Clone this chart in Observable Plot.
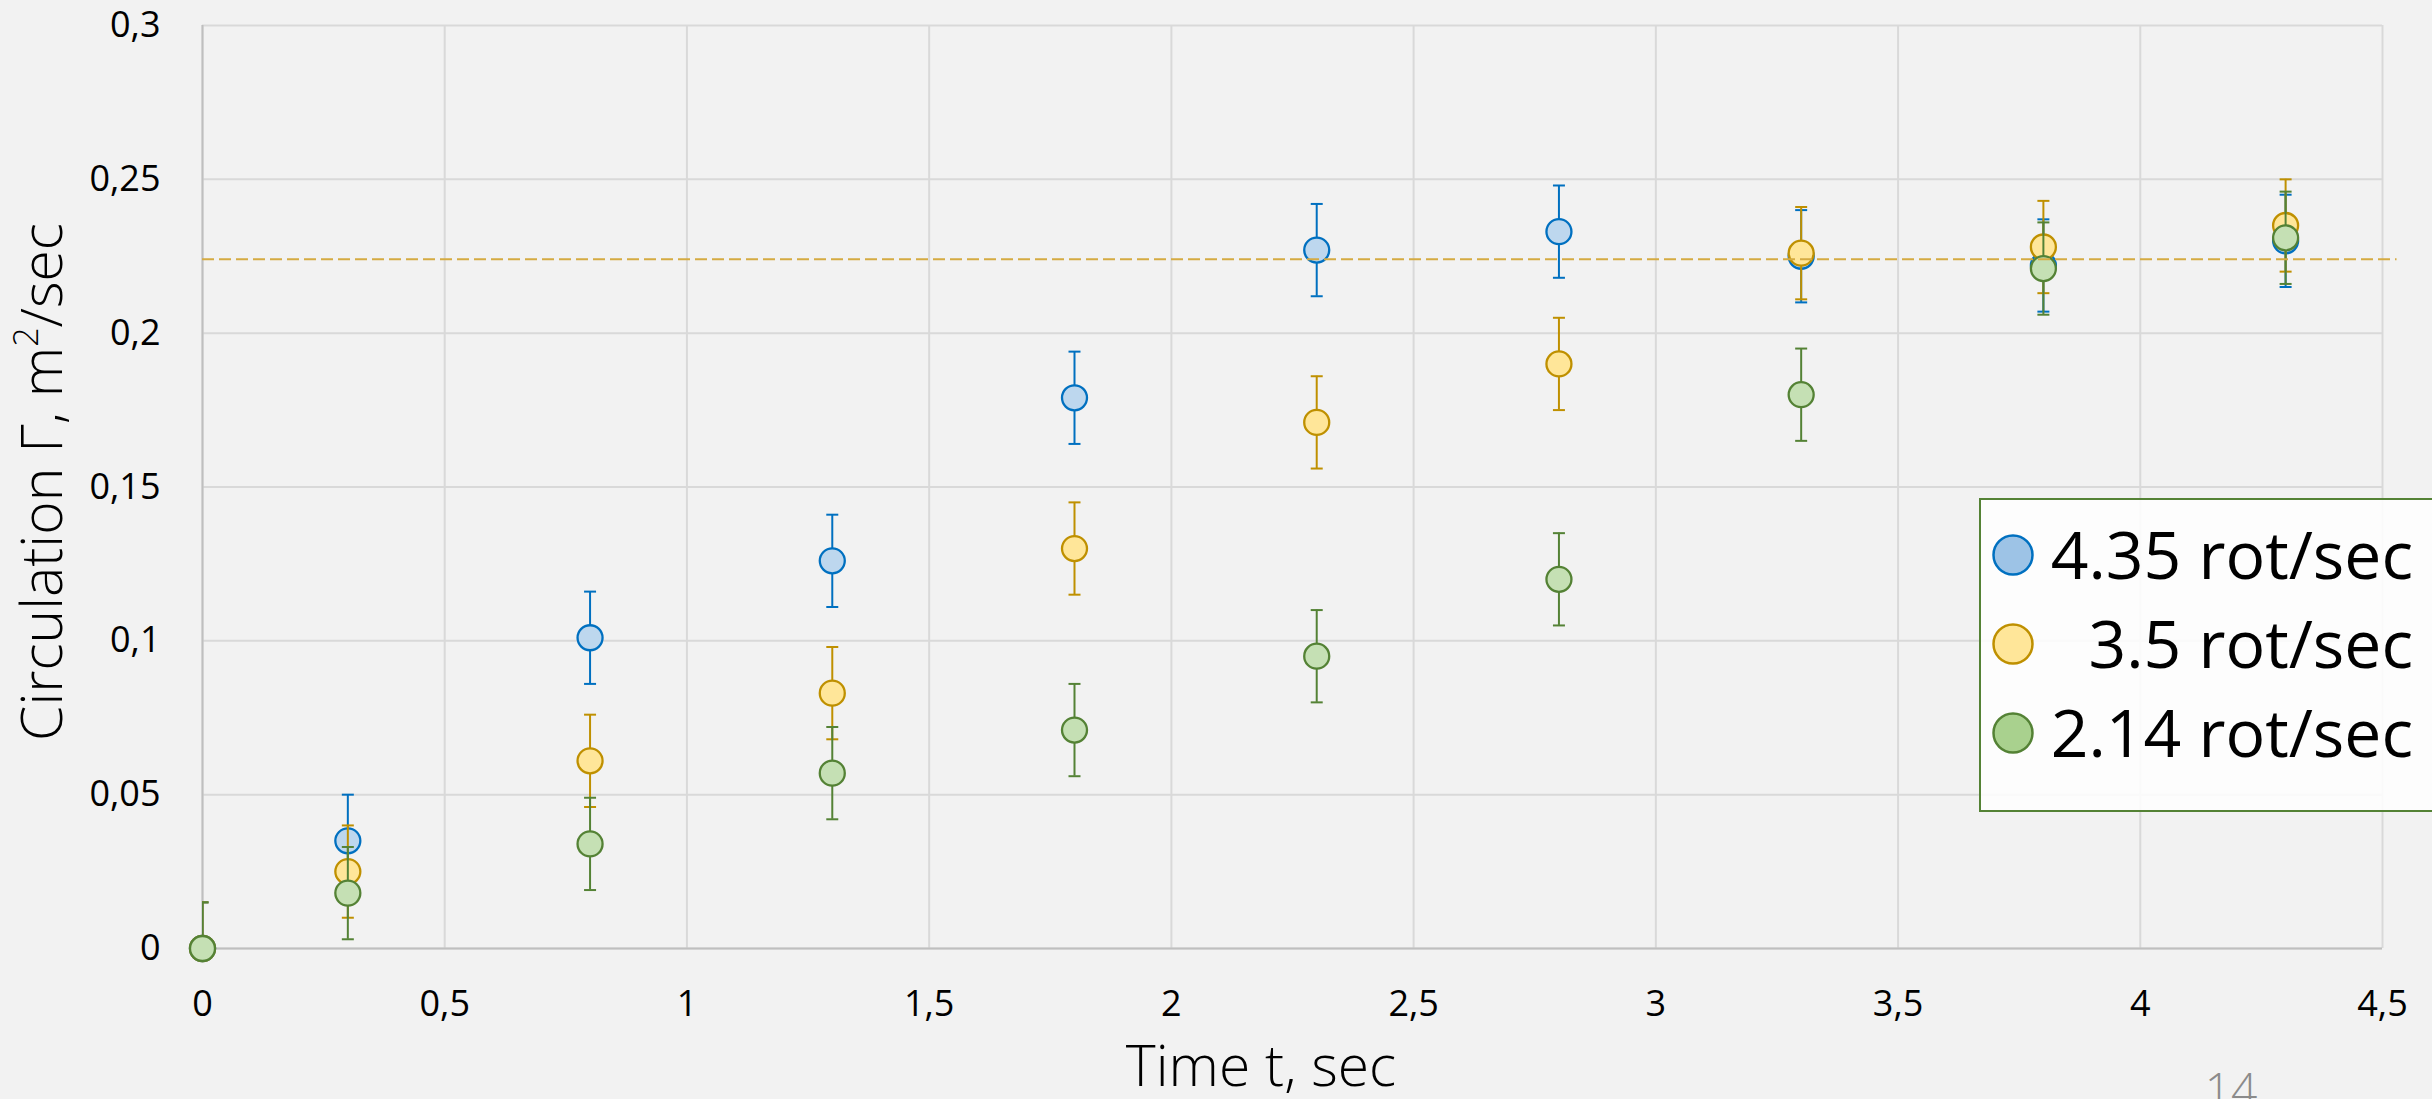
<!DOCTYPE html>
<html>
<head>
<meta charset="utf-8">
<script src="https://cdn.jsdelivr.net/npm/d3@7"></script>
<script src="https://cdn.jsdelivr.net/npm/@observablehq/plot@0.6"></script>
<style>
  html, body { margin: 0; padding: 0; background: #f2f2f2; }
  #chart { width: 2432px; height: 1099px; overflow: hidden; background: #f2f2f2; }
</style>
</head>
<body>
<div id="chart"></div>
<script>
// Measurement times (s)
const times = [0, 0.3, 0.8, 1.3, 1.8, 2.3, 2.8, 3.3, 3.8, 4.3];

// Circulation Γ (m²/s) for each rotation rate
const gamma435 = [0, 0.035, 0.101, 0.126, 0.179, 0.227, 0.233, 0.225, 0.222, 0.230];
const gamma350 = [0, 0.025, 0.061, 0.083, 0.130, 0.171, 0.190, 0.226, 0.228, 0.235];
const gamma214 = [0, 0.018, 0.034, 0.057, 0.071, 0.095, 0.120, 0.180, 0.221, 0.231];

// Symmetric measurement uncertainty (m²/s)
const errorHalfWidth = 0.015;

// Saturation level shown as a dashed reference line
const plateauLevel = 0.224;

const seriesNames = ["4.35 rot/sec", "3.5 rot/sec", "2.14 rot/sec"];
const xTicks = [0, 0.5, 1, 1.5, 2, 2.5, 3, 3.5, 4, 4.5];
const yTicks = [0, 0.05, 0.1, 0.15, 0.2, 0.25, 0.3];

// Colours: outline / marker fill / legend swatch fill
const seriesStyles = [
  {line: "#0070c0", fill: "#bdd7ee", swatch: "#9dc3e6"},
  {line: "#bf9000", fill: "#ffe699", swatch: "#ffe699"},
  {line: "#548235", fill: "#c5e0b4", swatch: "#a9d18e"}
];

const seriesValues = [gamma435, gamma350, gamma214];
const series = seriesNames.map((name, k) => ({
  name,
  style: seriesStyles[k],
  rows: times.map((t, i) => ({t, v: seriesValues[k][i]}))
}));

// Decimal comma tick labels
const fmt = d => String(d).replace(".", ",");

// Horizontal cap used at the ends of the error bars
const capSymbol = {
  draw(context, size) {
    const w = Math.sqrt(size / Math.PI);
    context.moveTo(-w, 0);
    context.lineTo(w, 0);
  }
};

const gridStyle = {stroke: "#d9d9d9", strokeOpacity: 1, strokeWidth: 2};
const axisLineStyle = {stroke: "#bfbfbf", strokeWidth: 2};

const marks = [
  Plot.gridX(xTicks, gridStyle),
  Plot.gridY(yTicks, gridStyle),
  Plot.ruleX([0], axisLineStyle),
  Plot.ruleY([0], axisLineStyle),
  Plot.axisX(xTicks, {tickSize: 0, tickPadding: 42, fontSize: 36, tickFormat: fmt, label: null}),
  Plot.axisY(yTicks, {tickSize: 0, tickPadding: 42, fontSize: 36, tickFormat: fmt, label: null})
];

for (const s of series) {
  const st = s.style;
  marks.push(
    Plot.ruleX(s.rows, {
      x: "t",
      y1: d => d.v - errorHalfWidth,
      y2: d => d.v + errorHalfWidth,
      stroke: st.line, strokeWidth: 2, clip: true
    }),
    Plot.dot(s.rows, {
      x: "t", y: d => d.v + errorHalfWidth,
      symbol: capSymbol, r: 6, fill: "none", stroke: st.line, strokeWidth: 2, clip: true
    }),
    Plot.dot(s.rows, {
      x: "t", y: d => d.v - errorHalfWidth,
      symbol: capSymbol, r: 6, fill: "none", stroke: st.line, strokeWidth: 2, clip: true
    }),
    Plot.dot(s.rows, {
      x: "t", y: "v", r: 12.5, fill: st.fill, stroke: st.line, strokeWidth: 2.3
    })
  );
}

marks.push(
  Plot.ruleY([plateauLevel], {
    y: d => d, x1: () => 0, x2: () => 4.53,
    stroke: "#d5ab42", strokeWidth: 2, strokeDasharray: "12,5"
  })
);

const svg = Plot.plot({
  width: 2432,
  height: 1099,
  marginLeft: 202,
  marginRight: 50,
  marginTop: 25,
  marginBottom: 151,
  style: {background: "transparent", fontFamily: "'Open Sans', sans-serif", color: "#000"},
  x: {domain: [0, 4.5], label: null},
  y: {domain: [0, 0.3], label: null},
  marks
});

const root = d3.select(svg);

// Axis titles
const yTitle = root.append("text")
  .attr("transform", "translate(62,482) rotate(-90)")
  .attr("text-anchor", "middle")
  .attr("font-family", "'Open Sans', sans-serif")
  .attr("font-weight", 300)
  .attr("font-size", 57)
  .attr("fill", "#000");
yTitle.append("tspan").text("Circulation Γ, m");
yTitle.append("tspan").attr("font-size", 34).attr("dy", -24).text("2");
yTitle.append("tspan").attr("dy", 24).text("/sec");

root.append("text")
  .attr("x", 1261).attr("y", 1086)
  .attr("text-anchor", "middle")
  .attr("font-family", "'Open Sans', sans-serif")
  .attr("font-weight", 300)
  .attr("font-size", 57)
  .attr("fill", "#000")
  .text("Time t, sec");

// Legend
const legend = root.append("g");
legend.append("rect")
  .attr("x", 1980).attr("y", 499).attr("width", 480).attr("height", 312)
  .attr("fill", "#ffffff").attr("fill-opacity", 0.85)
  .attr("stroke", "#548235").attr("stroke-width", 2);
const rowBaselines = [579, 668, 757];
series.forEach((s, k) => {
  legend.append("circle")
    .attr("cx", 2013).attr("cy", rowBaselines[k] - 24).attr("r", 19.5)
    .attr("fill", s.style.swatch).attr("stroke", s.style.line).attr("stroke-width", 2.5);
  legend.append("text")
    .attr("x", 2413).attr("y", rowBaselines[k])
    .attr("text-anchor", "end")
    .attr("font-family", "'Open Sans', sans-serif")
    .attr("font-size", 66)
    .attr("fill", "#000")
    .text(s.name);
});

// Slide number
root.append("text")
  .attr("x", 2231).attr("y", 1106)
  .attr("text-anchor", "middle")
  .attr("font-family", "'Open Sans', sans-serif")
  .attr("font-weight", 300)
  .attr("font-size", 46)
  .attr("fill", "#8b8b8b")
  .text("14");

document.getElementById("chart").appendChild(svg);
</script>
</body>
</html>
